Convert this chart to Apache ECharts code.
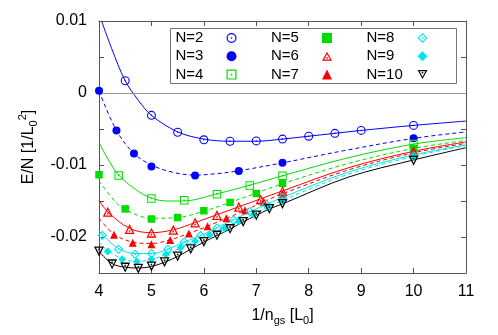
<!DOCTYPE html>
<html><head><meta charset="utf-8">
<script src="https://cdn.jsdelivr.net/npm/echarts@6/dist/echarts.min.js"></script>
<style>html,body{margin:0;padding:0;background:#fff}#c{width:498px;height:335px}</style>
</head><body><div id="c"></div>
<script>
// ---- data points ----
const n2X=[4.5,5,5.5,6,6.5,7,7.5,8,8.5,9,10];
const n2Y=[0.0017,-0.0031,-0.00545,-0.0065,-0.0067,-0.00665,-0.0064,-0.006,-0.0056,-0.0052,-0.0045];
const n3X=[4,4.333,4.667,5,5.833,6.667,7.5,10];
const n3Y=[0.0003,-0.0052,-0.0084,-0.0102,-0.01145,-0.01085,-0.0097,-0.0063];
const n4X=[4.375,5,5.625,6.25,6.875,7.5,10];
const n4Y=[-0.01145,-0.01465,-0.0149,-0.01405,-0.01285,-0.0115,-0.0071];
const n5X=[4,4.5,5,5.5,6,6.5,7,7.5,10];
const n5Y=[-0.01135,-0.0161,-0.0175,-0.0173,-0.01635,-0.0152,-0.01395,-0.01255,-0.0077];
const n6X=[4.167,4.583,5,5.417,5.833,6.25,6.667,7.083,7.5,10];
const n6Y=[-0.0165,-0.0189,-0.0194,-0.0190,-0.0180,-0.01695,-0.0158,-0.01475,-0.0136,-0.0081];
const n7X=[4.286,4.643,5,5.357,5.714,6.071,6.429,6.786,7.143,7.5,10];
const n7Y=[-0.0197,-0.0208,-0.0210,-0.0204,-0.0195,-0.0185,-0.0174,-0.0163,-0.0151,-0.0140,-0.0083];
const n8X=[4.0625,4.375,4.6875,5,5.3125,5.625,5.9375,6.25,6.5625,6.875,7.1875,7.5,10];
const n8Y=[-0.0198,-0.0217,-0.0224,-0.0223,-0.0217,-0.0207,-0.0198,-0.01875,-0.01765,-0.01645,-0.0155,-0.0145,-0.0087];
const n9X=[4.167,4.444,4.722,5,5.278,5.556,5.833,6.111,6.389,6.667,6.944,7.222,7.5,10];
const n9Y=[-0.0220,-0.0231,-0.0234,-0.0231,-0.0224,-0.0215,-0.0206,-0.0197,-0.0188,-0.0178,-0.0169,-0.0159,-0.0149,-0.0089];
const n10X=[4,4.25,4.5,4.75,5,5.25,5.5,5.75,6,6.25,6.5,6.75,7,7.25,7.5,10];
const n10Y=[-0.0220,-0.0238,-0.02425,-0.0244,-0.0241,-0.0235,-0.0227,-0.0217,-0.0207,-0.0198,-0.0189,-0.0179,-0.0170,-0.0161,-0.0154,-0.0094];

// ---- fit curves ----
const f2X=[4.05,4.24,4.5,4.75,5,5.5,6,6.5,7,7.5,8,8.5,9,10,11];
const f2Y=[0.0100,0.0062,0.0017,-0.0010,-0.0031,-0.0054,-0.0064,-0.0067,-0.0067,-0.0064,-0.0060,-0.0056,-0.0052,-0.0045,-0.0039];
const f3X=[4,4.333,4.667,5,5.4,5.833,6.25,6.667,7.5,8.75,10,11];
const f3Y=[0.0003,-0.0052,-0.0084,-0.0100,-0.0110,-0.0114,-0.0112,-0.0108,-0.0097,-0.0079,-0.0063,-0.0054];
const f4X=[4,4.18,4.375,4.7,5,5.3,5.6,6.25,6.875,7.5,8.75,10,11];
const f4Y=[-0.0069,-0.0093,-0.0114,-0.0134,-0.0146,-0.0150,-0.0150,-0.0140,-0.0128,-0.0115,-0.0090,-0.0071,-0.0062];
const f5X=[4,4.31,4.5,5,5.5,6,6.5,7,7.5,8.75,10,11];
const f5Y=[-0.0122,-0.0151,-0.0162,-0.0174,-0.0173,-0.0164,-0.0152,-0.0139,-0.0126,-0.0098,-0.0077,-0.0066];
const f6X=[4,4.167,4.583,5,5.417,5.833,6.25,6.667,7.083,7.5,8.75,10,11];
const f6Y=[-0.0149,-0.0165,-0.0188,-0.0194,-0.0190,-0.0180,-0.0169,-0.0158,-0.0147,-0.0136,-0.0104,-0.0081,-0.0068];
const f7X=[4,4.286,4.643,5,5.357,5.714,6.071,6.429,6.786,7.143,7.5,8.75,10,11];
const f7Y=[-0.0174,-0.0196,-0.0207,-0.0209,-0.0204,-0.0195,-0.0185,-0.0174,-0.0163,-0.0151,-0.0140,-0.0107,-0.0083,-0.0070];
const f8X=[4,4.0625,4.375,4.6875,5,5.3125,5.625,5.9375,6.25,6.5625,6.875,7.1875,7.5,8.75,10,11];
const f8Y=[-0.0191,-0.0197,-0.0216,-0.0223,-0.0223,-0.0217,-0.0207,-0.0198,-0.0187,-0.0176,-0.0165,-0.0155,-0.0145,-0.0110,-0.0086,-0.0072];
const f9X=[4,4.167,4.444,4.722,5,5.278,5.556,5.833,6.111,6.389,6.667,6.944,7.222,7.5,8.75,10,11];
const f9Y=[-0.0207,-0.0219,-0.0230,-0.0234,-0.0231,-0.0224,-0.0215,-0.0206,-0.0197,-0.0188,-0.0178,-0.0169,-0.0159,-0.0149,-0.0113,-0.0088,-0.0073];
const f10X=[4,4.25,4.5,4.75,5,5.25,5.5,5.75,6,6.25,6.5,6.75,7,7.25,7.5,8.75,10,11];
const f10Y=[-0.0220,-0.0237,-0.0242,-0.0243,-0.0241,-0.0235,-0.0227,-0.0217,-0.0207,-0.0198,-0.0189,-0.0179,-0.0170,-0.0161,-0.0154,-0.0117,-0.0093,-0.0076];

const xTicks=[4,5,6,7,8,9,10,11];
const yTickLabels=[0.01,0,-0.01,-0.02];

const zip=(a,b)=>a.map((v,i)=>[v,b[i]]);

// open symbols with centre dot
const S_OCIRC='path://M0,-10A10,10 0 1,1 0,10A10,10 0 1,1 0,-10ZM0,-7.6A7.6,7.6 0 1,0 0,7.6A7.6,7.6 0 1,0 0,-7.6ZM0,-1.6A1.6,1.6 0 1,1 0,1.6A1.6,1.6 0 1,1 0,-1.6Z';
const S_OSQ='path://M-10,-10L10,-10L10,10L-10,10ZM-7.6,-7.6L-7.6,7.6L7.6,7.6L7.6,-7.6ZM-1.6,-1.6L1.6,-1.6L1.6,1.6L-1.6,1.6Z';
const S_OTRI='path://M0,-10L10,8L-10,8ZM0,-5.2L-6,5.6L6,5.6ZM-1.5,1L1.5,1L1.5,4L-1.5,4Z';
const S_ODTRI='path://M0,10L-10,-8L10,-8ZM0,5.2L6,-5.6L-6,-5.6ZM-1.5,-1L1.5,-1L1.5,-4L-1.5,-4Z';
const S_ODIA='path://M0,-10L10,0L0,10L-10,0ZM0,-6.8L-6.8,0L0,6.8L6.8,0ZM-1.5,-1.5L1.5,-1.5L1.5,1.5L-1.5,1.5Z';

const BLUE='#0000ff', GREEN='#00dd00', RED='#ff0000', CYAN='#00e4ec', BLACK='#000000';
const FONT='Liberation Sans, Arial, sans-serif';

function fit(name,x,y,color,dashed){
  return {name:name,type:'line',data:zip(x,y),smooth:0.35,showSymbol:false,symbol:'none',
    lineStyle:{color:color,width:1,type:dashed?[4,3]:'solid'},z:2,silent:true};
}
function pts(name,x,y,color,symbol,size){
  return {name:name,type:'scatter',data:zip(x,y),symbol:symbol,symbolSize:size,
    itemStyle:{color:color,opacity:1},z:5,clip:false,silent:true};
}

const series=[
  fit('f2',f2X,f2Y,BLUE,false),
  fit('f3',f3X,f3Y,BLUE,true),
  fit('f4',f4X,f4Y,GREEN,false),
  fit('f5',f5X,f5Y,GREEN,true),
  fit('f6',f6X,f6Y,RED,false),
  fit('f7',f7X,f7Y,RED,true),
  fit('f8',f8X,f8Y,CYAN,false),
  fit('f9',f9X,f9Y,CYAN,true),
  fit('f10',f10X,f10Y,BLACK,false),
  pts('N=2',n2X,n2Y,BLUE,S_OCIRC,9),
  pts('N=3',n3X,n3Y,BLUE,'circle',8),
  pts('N=4',n4X,n4Y,GREEN,S_OSQ,8.5),
  pts('N=5',n5X,n5Y,GREEN,'rect',7.5),
  pts('N=6',n6X,n6Y,RED,S_OTRI,10),
  pts('N=7',n7X,n7Y,RED,'triangle',8),
  pts('N=8',n8X,n8Y,CYAN,S_ODIA,9.5),
  pts('N=9',n9X,n9Y,CYAN,'diamond',8),
  pts('N=10',n10X,n10Y,BLACK,S_ODTRI,10)
];
series[0].markLine={silent:true,symbol:'none',label:{show:false},animation:false,
  lineStyle:{color:'#999',width:1,type:'solid'},data:[{yAxis:0}]};

const AX='#555';
function legendCol(names,left){
  return {data:names,left:left,top:29,orient:'vertical',align:'right',padding:0,itemGap:0.3,
    itemWidth:10,itemHeight:10,selectedMode:false,
    formatter:function(n){return '{t|'+n+'}';},
    textStyle:{fontSize:15,fontFamily:FONT,color:'#000',lineHeight:18,
      rich:{t:{fontSize:15,fontFamily:FONT,color:'#000',width:46,align:'left',lineHeight:18}}}};
}

const chart=echarts.init(document.getElementById('c'),null,{renderer:'canvas'});
chart.setOption({
  animation:false,
  backgroundColor:'#fff',
  grid:{left:99,right:32,top:21,bottom:62,containLabel:false},
  graphic:[{type:'rect',shape:{x:170.5,y:28.5,width:286,height:55},
    style:{fill:null,stroke:'#777',lineWidth:1},z:10,silent:true}],
  legend:[legendCol(['N=2','N=3','N=4'],175.5),legendCol(['N=5','N=6','N=7'],271),legendCol(['N=8','N=9','N=10'],366.5)],
  xAxis:[
    {type:'value',min:xTicks[0],max:xTicks[xTicks.length-1],interval:1,position:'bottom',
     axisLine:{onZero:false,lineStyle:{color:AX,width:1}},
     axisTick:{inside:true,length:5,lineStyle:{color:AX}},
     splitLine:{show:false},
     axisLabel:{fontSize:16,fontFamily:FONT,color:'#000',margin:11},
     name:'1/n{sub|gs} [L{sub|0}]',nameLocation:'middle',nameGap:31,
     nameTextStyle:{fontSize:16,fontFamily:FONT,color:'#000',lineHeight:22,verticalAlign:'top',
       rich:{sub:{fontSize:11,fontFamily:FONT,color:'#000',lineHeight:12,verticalAlign:'bottom'}}}},
    {type:'value',min:xTicks[0],max:xTicks[xTicks.length-1],interval:1,position:'top',
     axisLine:{onZero:false,lineStyle:{color:AX,width:1}},
     axisTick:{inside:true,length:5,lineStyle:{color:AX}},
     splitLine:{show:false},axisLabel:{show:false}}
  ],
  yAxis:[
    {type:'value',min:-0.025,max:0.01,interval:0.005,position:'left',
     axisLine:{onZero:false,lineStyle:{color:AX,width:1}},
     axisTick:{inside:true,length:5,lineStyle:{color:AX}},
     splitLine:{show:false},
     axisLabel:{fontSize:16,fontFamily:FONT,color:'#000',margin:12,
       formatter:function(v){
         for(const t of yTickLabels){ if(Math.abs(v-t)<1e-9) return String(t); }
         return '';
       }},
     name:'E/N [1/L{sub|0}{sup|2}]',nameLocation:'middle',nameGap:72,nameRotate:90,
     nameTextStyle:{fontSize:16,fontFamily:FONT,color:'#000',lineHeight:22,verticalAlign:'top',
       rich:{sub:{fontSize:11,fontFamily:FONT,color:'#000',lineHeight:12,verticalAlign:'bottom'},
             sup:{fontSize:11,fontFamily:FONT,color:'#000',lineHeight:12,verticalAlign:'top'}}}},
    {type:'value',min:-0.025,max:0.01,interval:0.005,position:'right',
     axisLine:{onZero:false,lineStyle:{color:AX,width:1}},
     axisTick:{inside:true,length:5,lineStyle:{color:AX}},
     splitLine:{show:false},axisLabel:{show:false}}
  ],
  series:series
});
</script>
</body></html>
